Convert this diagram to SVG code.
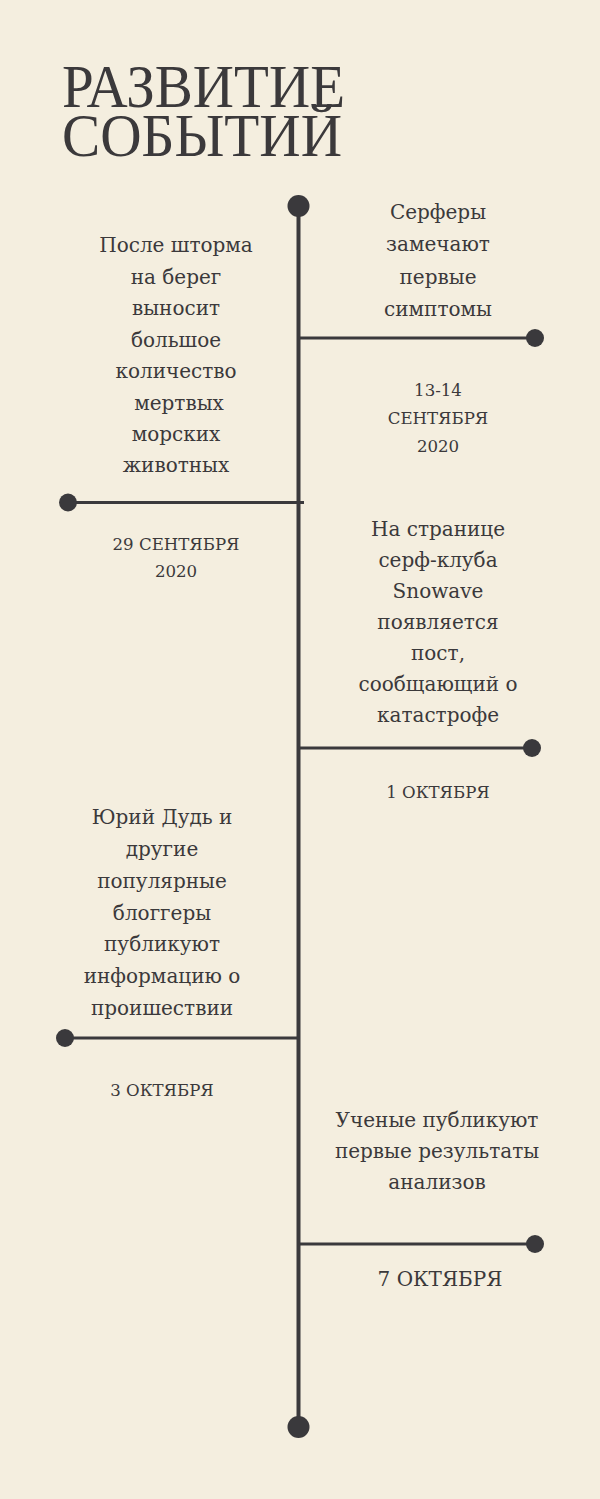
<svg xmlns="http://www.w3.org/2000/svg" width="600" height="1499" viewBox="0 0 600 1499">
<style>
.bg{fill:#f4eedf}
.t{font-family:"DejaVu Serif","Liberation Serif",serif;font-size:20px;fill:#3b393b;text-anchor:middle}
.d{font-family:"DejaVu Serif","Liberation Serif",serif;font-size:16.6px;fill:#3b393b;text-anchor:middle}
.title{font-family:"Liberation Serif","DejaVu Serif",serif;font-size:62px;fill:#3b393b}
.ln{stroke:#3a393c;stroke-width:3;fill:none}
.axis{stroke:#3a393c;stroke-width:4;fill:none}
.dot{fill:#3a393c}
</style>
<rect class="bg" x="0" y="0" width="600" height="1499"/>
<g id="title">
<text class="title" x="62" y="107" textLength="283" lengthAdjust="spacingAndGlyphs">РАЗВИТИЕ</text>
<text class="title" x="62" y="156" textLength="280" lengthAdjust="spacingAndGlyphs">СОБЫТИЙ</text>
</g>
<g id="connectors">
<line class="axis" x1="298.5" y1="206" x2="298.5" y2="1427"/>
<line class="ln" x1="299" y1="338" x2="535" y2="338"/>
<line class="ln" x1="68" y1="502.5" x2="304" y2="502.5"/>
<line class="ln" x1="299" y1="748" x2="532" y2="748"/>
<line class="ln" x1="65" y1="1038" x2="299" y2="1038"/>
<line class="ln" x1="299" y1="1244" x2="535" y2="1244"/>
<circle class="dot" cx="298.5" cy="206" r="11"/>
<circle class="dot" cx="298.5" cy="1427" r="11"/>
<circle class="dot" cx="535" cy="338" r="9"/>
<circle class="dot" cx="68" cy="502.5" r="9"/>
<circle class="dot" cx="532" cy="748" r="9"/>
<circle class="dot" cx="65" cy="1038" r="9"/>
<circle class="dot" cx="535" cy="1244" r="9"/>
</g>
<g id="event1">
<text class="t" x="438" y="219">Серферы</text>
<text class="t" x="438" y="251">замечают</text>
<text class="t" x="438" y="284">первые</text>
<text class="t" x="438" y="316">симптомы</text>
<text class="d" x="438" y="396">13-14</text>
<text class="d" x="438" y="424">СЕНТЯБРЯ</text>
<text class="d" x="438" y="452">2020</text>
</g>
<g id="event2">
<text class="t" x="176" y="252">После шторма</text>
<text class="t" x="176" y="284">на берег</text>
<text class="t" x="176" y="315">выносит</text>
<text class="t" x="176" y="347">большое</text>
<text class="t" x="176" y="378">количество</text>
<text class="t" x="179" y="410">мертвых</text>
<text class="t" x="176" y="441">морских</text>
<text class="t" x="176" y="472">животных</text>
<text class="d" x="176" y="550">29 СЕНТЯБРЯ</text>
<text class="d" x="176" y="577">2020</text>
</g>
<g id="event3">
<text class="t" x="438" y="536">На странице</text>
<text class="t" x="438" y="567">серф-клуба</text>
<text class="t" x="438" y="598">Snowave</text>
<text class="t" x="438" y="629">появляется</text>
<text class="t" x="438" y="660">пост,</text>
<text class="t" x="438" y="691">сообщающий о</text>
<text class="t" x="438" y="722">катастрофе</text>
<text class="d" x="438" y="798">1 ОКТЯБРЯ</text>
</g>
<g id="event4">
<text class="t" x="162" y="824">Юрий Дудь и</text>
<text class="t" x="162" y="856">другие</text>
<text class="t" x="162" y="888">популярные</text>
<text class="t" x="162" y="920">блоггеры</text>
<text class="t" x="162" y="951">публикуют</text>
<text class="t" x="162" y="983">информацию о</text>
<text class="t" x="162" y="1015">проишествии</text>
<text class="d" x="162" y="1096">3 ОКТЯБРЯ</text>
</g>
<g id="event5">
<text class="t" x="437" y="1127">Ученые публикуют</text>
<text class="t" x="437" y="1158">первые результаты</text>
<text class="t" x="437" y="1189">анализов</text>
<text class="t" x="440" y="1286">7 ОКТЯБРЯ</text>
</g>
</svg>
